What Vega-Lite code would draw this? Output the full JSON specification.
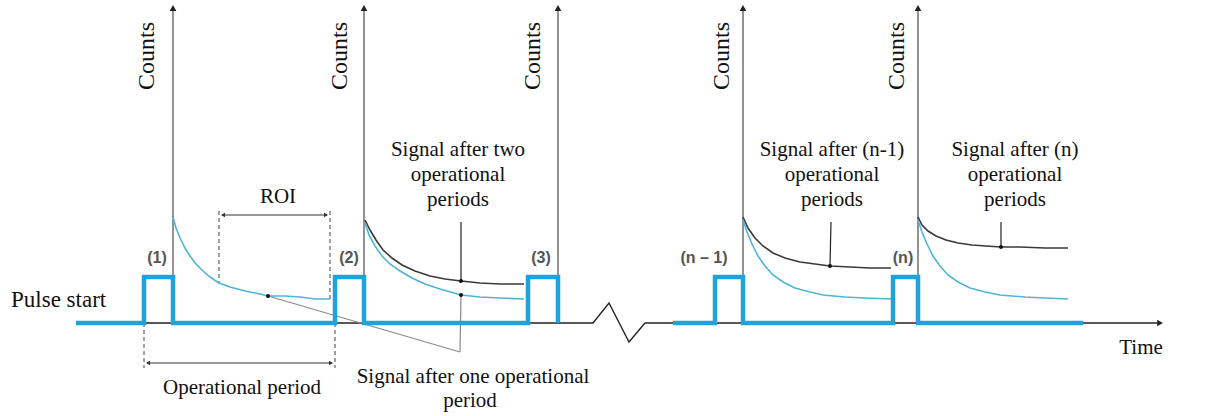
{
  "$schema": "https://vega.github.io/schema/vega-lite/v6.json",
  "width": 1217,
  "height": 416,
  "autosize": {"type": "fit", "contains": "padding"},
  "padding": 0,
  "background": "white",
  "config": {"view": {"stroke": null}},
  "datasets": {
    "axes": [
      {"x": 173, "y": 10, "y2": 323},
      {"x": 364, "y": 10, "y2": 323},
      {"x": 558, "y": 10, "y2": 323},
      {"x": 743, "y": 10, "y2": 323},
      {"x": 918, "y": 10, "y2": 323}
    ],
    "axisArrows": [
      {"x": 173, "y": 8, "dir": "up"},
      {"x": 364, "y": 8, "dir": "up"},
      {"x": 558, "y": 8, "dir": "up"},
      {"x": 743, "y": 8, "dir": "up"},
      {"x": 918, "y": 8, "dir": "up"},
      {"x": 1160, "y": 323, "dir": "right"}
    ],
    "baseline": [
      {"i": 1, "x": 143, "y": 323},
      {"i": 2, "x": 593, "y": 323},
      {"i": 3, "x": 609, "y": 303},
      {"i": 4, "x": 629, "y": 342},
      {"i": 5, "x": 645, "y": 323},
      {"i": 6, "x": 1157, "y": 323}
    ],
    "pulse": [
      {"seg": "a", "i": 1, "x": 76, "y": 323},
      {"seg": "a", "i": 2, "x": 144, "y": 323},
      {"seg": "a", "i": 3, "x": 144, "y": 277},
      {"seg": "a", "i": 4, "x": 173, "y": 277},
      {"seg": "a", "i": 5, "x": 173, "y": 323},
      {"seg": "a", "i": 6, "x": 335, "y": 323},
      {"seg": "a", "i": 7, "x": 335, "y": 277},
      {"seg": "a", "i": 8, "x": 364, "y": 277},
      {"seg": "a", "i": 9, "x": 364, "y": 323},
      {"seg": "a", "i": 10, "x": 528, "y": 323},
      {"seg": "a", "i": 11, "x": 528, "y": 277},
      {"seg": "a", "i": 12, "x": 558, "y": 277},
      {"seg": "a", "i": 13, "x": 558, "y": 323},
      {"seg": "b", "i": 1, "x": 673, "y": 323},
      {"seg": "b", "i": 2, "x": 715, "y": 323},
      {"seg": "b", "i": 3, "x": 715, "y": 277},
      {"seg": "b", "i": 4, "x": 743, "y": 277},
      {"seg": "b", "i": 5, "x": 743, "y": 323},
      {"seg": "b", "i": 6, "x": 893, "y": 323},
      {"seg": "b", "i": 7, "x": 893, "y": 277},
      {"seg": "b", "i": 8, "x": 918, "y": 277},
      {"seg": "b", "i": 9, "x": 918, "y": 323},
      {"seg": "b", "i": 10, "x": 1083, "y": 323}
    ],
    "curves": [
      {"curve": "b1", "kind": "blue", "x": 173, "y": 217},
      {"curve": "b1", "kind": "blue", "x": 176, "y": 228},
      {"curve": "b1", "kind": "blue", "x": 180, "y": 238},
      {"curve": "b1", "kind": "blue", "x": 185, "y": 248},
      {"curve": "b1", "kind": "blue", "x": 190, "y": 256},
      {"curve": "b1", "kind": "blue", "x": 196, "y": 264},
      {"curve": "b1", "kind": "blue", "x": 203, "y": 271},
      {"curve": "b1", "kind": "blue", "x": 210, "y": 277},
      {"curve": "b1", "kind": "blue", "x": 219, "y": 283},
      {"curve": "b1", "kind": "blue", "x": 230, "y": 287},
      {"curve": "b1", "kind": "blue", "x": 245, "y": 291},
      {"curve": "b1", "kind": "blue", "x": 260, "y": 294},
      {"curve": "b1", "kind": "blue", "x": 268, "y": 296},
      {"curve": "b1", "kind": "blue", "x": 285, "y": 296},
      {"curve": "b1", "kind": "blue", "x": 300, "y": 297},
      {"curve": "b1", "kind": "blue", "x": 315, "y": 299},
      {"curve": "b1", "kind": "blue", "x": 330, "y": 299},
      {"curve": "k2", "kind": "black", "x": 365, "y": 220},
      {"curve": "k2", "kind": "black", "x": 370, "y": 230},
      {"curve": "k2", "kind": "black", "x": 376, "y": 240},
      {"curve": "k2", "kind": "black", "x": 383, "y": 250},
      {"curve": "k2", "kind": "black", "x": 392, "y": 258},
      {"curve": "k2", "kind": "black", "x": 402, "y": 265},
      {"curve": "k2", "kind": "black", "x": 415, "y": 271},
      {"curve": "k2", "kind": "black", "x": 430, "y": 276},
      {"curve": "k2", "kind": "black", "x": 445, "y": 279},
      {"curve": "k2", "kind": "black", "x": 461, "y": 281},
      {"curve": "k2", "kind": "black", "x": 480, "y": 283},
      {"curve": "k2", "kind": "black", "x": 500, "y": 284},
      {"curve": "k2", "kind": "black", "x": 524, "y": 284},
      {"curve": "b2", "kind": "blue", "x": 365, "y": 223},
      {"curve": "b2", "kind": "blue", "x": 369, "y": 235},
      {"curve": "b2", "kind": "blue", "x": 375, "y": 246},
      {"curve": "b2", "kind": "blue", "x": 382, "y": 256},
      {"curve": "b2", "kind": "blue", "x": 390, "y": 264},
      {"curve": "b2", "kind": "blue", "x": 400, "y": 271},
      {"curve": "b2", "kind": "blue", "x": 412, "y": 278},
      {"curve": "b2", "kind": "blue", "x": 425, "y": 284},
      {"curve": "b2", "kind": "blue", "x": 440, "y": 289},
      {"curve": "b2", "kind": "blue", "x": 461, "y": 295},
      {"curve": "b2", "kind": "blue", "x": 480, "y": 297},
      {"curve": "b2", "kind": "blue", "x": 500, "y": 298},
      {"curve": "b2", "kind": "blue", "x": 524, "y": 299},
      {"curve": "k3", "kind": "black", "x": 743, "y": 217},
      {"curve": "k3", "kind": "black", "x": 748, "y": 228},
      {"curve": "k3", "kind": "black", "x": 755, "y": 238},
      {"curve": "k3", "kind": "black", "x": 763, "y": 246},
      {"curve": "k3", "kind": "black", "x": 773, "y": 253},
      {"curve": "k3", "kind": "black", "x": 785, "y": 258},
      {"curve": "k3", "kind": "black", "x": 800, "y": 262},
      {"curve": "k3", "kind": "black", "x": 815, "y": 264},
      {"curve": "k3", "kind": "black", "x": 830, "y": 266},
      {"curve": "k3", "kind": "black", "x": 850, "y": 267},
      {"curve": "k3", "kind": "black", "x": 870, "y": 268},
      {"curve": "k3", "kind": "black", "x": 891, "y": 268},
      {"curve": "b3", "kind": "blue", "x": 743, "y": 220},
      {"curve": "b3", "kind": "blue", "x": 747, "y": 232},
      {"curve": "b3", "kind": "blue", "x": 752, "y": 244},
      {"curve": "b3", "kind": "blue", "x": 758, "y": 256},
      {"curve": "b3", "kind": "blue", "x": 765, "y": 266},
      {"curve": "b3", "kind": "blue", "x": 773, "y": 275},
      {"curve": "b3", "kind": "blue", "x": 783, "y": 282},
      {"curve": "b3", "kind": "blue", "x": 795, "y": 288},
      {"curve": "b3", "kind": "blue", "x": 810, "y": 292},
      {"curve": "b3", "kind": "blue", "x": 823, "y": 295},
      {"curve": "b3", "kind": "blue", "x": 845, "y": 297},
      {"curve": "b3", "kind": "blue", "x": 865, "y": 298},
      {"curve": "b3", "kind": "blue", "x": 891, "y": 299},
      {"curve": "k4", "kind": "black", "x": 918, "y": 217},
      {"curve": "k4", "kind": "black", "x": 922, "y": 225},
      {"curve": "k4", "kind": "black", "x": 928, "y": 231},
      {"curve": "k4", "kind": "black", "x": 936, "y": 236},
      {"curve": "k4", "kind": "black", "x": 946, "y": 240},
      {"curve": "k4", "kind": "black", "x": 958, "y": 243},
      {"curve": "k4", "kind": "black", "x": 972, "y": 245},
      {"curve": "k4", "kind": "black", "x": 986, "y": 246},
      {"curve": "k4", "kind": "black", "x": 1001, "y": 247},
      {"curve": "k4", "kind": "black", "x": 1020, "y": 247},
      {"curve": "k4", "kind": "black", "x": 1045, "y": 248},
      {"curve": "k4", "kind": "black", "x": 1068, "y": 248},
      {"curve": "b4", "kind": "blue", "x": 918, "y": 220},
      {"curve": "b4", "kind": "blue", "x": 922, "y": 232},
      {"curve": "b4", "kind": "blue", "x": 927, "y": 244},
      {"curve": "b4", "kind": "blue", "x": 933, "y": 256},
      {"curve": "b4", "kind": "blue", "x": 940, "y": 266},
      {"curve": "b4", "kind": "blue", "x": 948, "y": 275},
      {"curve": "b4", "kind": "blue", "x": 958, "y": 282},
      {"curve": "b4", "kind": "blue", "x": 970, "y": 288},
      {"curve": "b4", "kind": "blue", "x": 985, "y": 292},
      {"curve": "b4", "kind": "blue", "x": 1000, "y": 295},
      {"curve": "b4", "kind": "blue", "x": 1025, "y": 297},
      {"curve": "b4", "kind": "blue", "x": 1045, "y": 298},
      {"curve": "b4", "kind": "blue", "x": 1068, "y": 299}
    ],
    "dashes": [
      {"x": 219, "y": 211, "x2": 219, "y2": 283},
      {"x": 330, "y": 211, "x2": 330, "y2": 299},
      {"x": 144, "y": 323, "x2": 144, "y2": 368},
      {"x": 335, "y": 323, "x2": 335, "y2": 368}
    ],
    "dims": [
      {"x": 222, "x2": 327, "y": 215},
      {"x": 147, "x2": 332, "y": 363}
    ],
    "dimArrows": [
      {"x": 223, "y": 215, "dir": "left"},
      {"x": 326, "y": 215, "dir": "right"},
      {"x": 148, "y": 363, "dir": "left"},
      {"x": 331, "y": 363, "dir": "right"}
    ],
    "grayPointers": [
      {"x": 268, "y": 296, "x2": 460, "y2": 352},
      {"x": 461, "y": 295, "x2": 460, "y2": 352}
    ],
    "darkPointers": [
      {"x": 461, "y": 222, "x2": 461, "y2": 281},
      {"x": 831, "y": 222, "x2": 830, "y2": 266},
      {"x": 1001, "y": 222, "x2": 1001, "y2": 247}
    ],
    "dots": [
      {"x": 268, "y": 296},
      {"x": 461, "y": 281},
      {"x": 461, "y": 295},
      {"x": 830, "y": 266},
      {"x": 1001, "y": 247}
    ],
    "labels": [
      {"text": "ROI", "x": 278, "y": 197},
      {"text": "Operational period", "x": 242, "y": 388},
      {"text": "Signal after two", "x": 458, "y": 150},
      {"text": "operational", "x": 458, "y": 175},
      {"text": "periods", "x": 458, "y": 200},
      {"text": "Signal after one operational", "x": 473, "y": 377},
      {"text": "period", "x": 470, "y": 401},
      {"text": "Signal after (n-1)", "x": 832, "y": 150},
      {"text": "operational", "x": 832, "y": 175},
      {"text": "periods", "x": 832, "y": 200},
      {"text": "Signal after (n)", "x": 1015, "y": 150},
      {"text": "operational", "x": 1015, "y": 175},
      {"text": "periods", "x": 1015, "y": 200},
      {"text": "Time", "x": 1141, "y": 348}
    ],
    "leftLabels": [
      {"text": "Pulse start", "x": 11, "y": 300}
    ],
    "counts": [
      {"text": "Counts", "x": 147, "y": 56},
      {"text": "Counts", "x": 340, "y": 56},
      {"text": "Counts", "x": 533, "y": 56},
      {"text": "Counts", "x": 722, "y": 56},
      {"text": "Counts", "x": 897, "y": 56}
    ],
    "numbers": [
      {"text": "(1)", "x": 157, "y": 258},
      {"text": "(2)", "x": 349, "y": 258},
      {"text": "(3)", "x": 541, "y": 258},
      {"text": "(n – 1)", "x": 704, "y": 258},
      {"text": "(n)", "x": 903, "y": 258}
    ]
  },
  "encoding": {
    "x": {"type": "quantitative", "scale": {"domain": [0, 1217], "nice": false, "zero": false}, "axis": null},
    "y": {"type": "quantitative", "scale": {"domain": [0, 416], "nice": false, "zero": false, "reverse": true}, "axis": null}
  },
  "layer": [
    {
      "data": {"name": "axes"},
      "mark": {"type": "rule", "color": "#4a4a4a", "strokeWidth": 1.2},
      "encoding": {"x": {"field": "x"}, "y": {"field": "y"}, "y2": {"field": "y2"}}
    },
    {
      "data": {"name": "baseline"},
      "mark": {"type": "line", "color": "#222222", "strokeWidth": 1.4},
      "encoding": {"x": {"field": "x"}, "y": {"field": "y"}, "order": {"field": "i"}}
    },
    {
      "data": {"name": "axisArrows"},
      "mark": {"type": "point", "filled": true, "color": "#222222", "opacity": 1, "size": 45},
      "encoding": {
        "x": {"field": "x"}, "y": {"field": "y"},
        "shape": {"field": "dir", "scale": {"domain": ["up", "right", "left"], "range": ["triangle-up", "triangle-right", "triangle-left"]}, "legend": null}
      }
    },
    {
      "data": {"name": "dashes"},
      "mark": {"type": "rule", "color": "#444444", "strokeWidth": 1, "strokeDash": [4, 3]},
      "encoding": {"x": {"field": "x"}, "y": {"field": "y"}, "x2": {"field": "x2"}, "y2": {"field": "y2"}}
    },
    {
      "data": {"name": "dims"},
      "mark": {"type": "rule", "color": "#333333", "strokeWidth": 1.2},
      "encoding": {"x": {"field": "x"}, "x2": {"field": "x2"}, "y": {"field": "y"}}
    },
    {
      "data": {"name": "dimArrows"},
      "mark": {"type": "point", "filled": true, "color": "#333333", "opacity": 1, "size": 22},
      "encoding": {
        "x": {"field": "x"}, "y": {"field": "y"},
        "shape": {"field": "dir", "scale": {"domain": ["up", "right", "left"], "range": ["triangle-up", "triangle-right", "triangle-left"]}, "legend": null}
      }
    },
    {
      "data": {"name": "grayPointers"},
      "mark": {"type": "rule", "strokeWidth": 1.2, "color": "#8a8a8a"},
      "encoding": {"x": {"field": "x"}, "y": {"field": "y"}, "x2": {"field": "x2"}, "y2": {"field": "y2"}}
    },
    {
      "data": {"name": "darkPointers"},
      "mark": {"type": "rule", "strokeWidth": 1.2, "color": "#222222"},
      "encoding": {"x": {"field": "x"}, "y": {"field": "y"}, "x2": {"field": "x2"}, "y2": {"field": "y2"}}
    },
    {
      "data": {"name": "curves"},
      "mark": {"type": "line", "strokeWidth": 1.6},
      "encoding": {
        "x": {"field": "x"}, "y": {"field": "y"},
        "detail": {"field": "curve"},
        "color": {"field": "kind", "type": "nominal", "scale": {"domain": ["blue", "black"], "range": ["#4fb4da", "#3a3a3a"]}, "legend": null}
      }
    },
    {
      "data": {"name": "pulse"},
      "mark": {"type": "line", "color": "#1ea3dd", "strokeWidth": 4.5, "strokeJoin": "miter"},
      "encoding": {"x": {"field": "x"}, "y": {"field": "y"}, "detail": {"field": "seg"}, "order": {"field": "i"}}
    },
    {
      "data": {"name": "dots"},
      "mark": {"type": "point", "filled": true, "color": "#111111", "opacity": 1, "size": 16},
      "encoding": {"x": {"field": "x"}, "y": {"field": "y"}}
    },
    {
      "data": {"name": "labels"},
      "mark": {"type": "text", "font": "Liberation Serif", "fontSize": 21, "color": "#111111", "align": "center", "baseline": "middle"},
      "encoding": {"x": {"field": "x"}, "y": {"field": "y"}, "text": {"field": "text"}}
    },
    {
      "data": {"name": "leftLabels"},
      "mark": {"type": "text", "font": "Liberation Serif", "fontSize": 23, "color": "#111111", "align": "left", "baseline": "middle"},
      "encoding": {"x": {"field": "x"}, "y": {"field": "y"}, "text": {"field": "text"}}
    },
    {
      "data": {"name": "counts"},
      "mark": {"type": "text", "font": "Liberation Serif", "fontSize": 24, "color": "#111111", "align": "center", "baseline": "middle", "angle": 270},
      "encoding": {"x": {"field": "x"}, "y": {"field": "y"}, "text": {"field": "text"}}
    },
    {
      "data": {"name": "numbers"},
      "mark": {"type": "text", "font": "Liberation Sans", "fontSize": 16, "fontWeight": "bold", "color": "#555555", "align": "center", "baseline": "middle"},
      "encoding": {"x": {"field": "x"}, "y": {"field": "y"}, "text": {"field": "text"}}
    }
  ]
}
